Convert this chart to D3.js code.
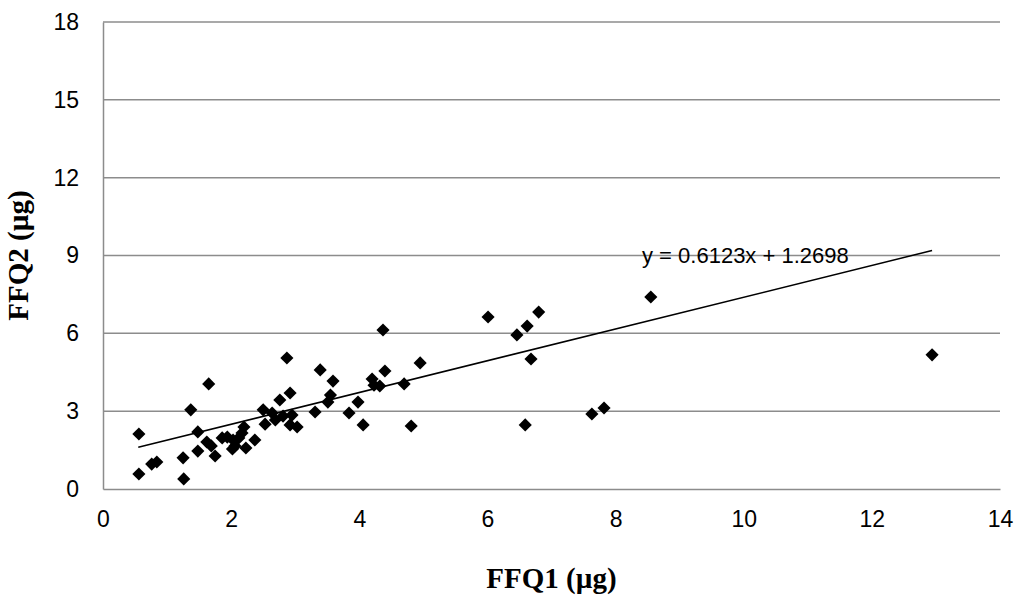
<!DOCTYPE html>
<html>
<head>
<meta charset="utf-8">
<script src="https://cdn.jsdelivr.net/npm/d3@7"></script>
<style>
body { margin: 0; background: #fff; }
text { font-family: "Liberation Sans", Arial, sans-serif; }
</style>
</head>
<body>
<script>
// readings
var xVals = [0.56,0.56,0.76,0.84,1.25,1.26,1.37,1.48,1.48,1.65,1.62,1.69,1.75,1.86,1.94,2.02,2.03,2.06,2.12,2.17,2.2,2.23,2.37,2.5,2.53,2.64,2.69,2.76,2.81,2.87,2.92,2.92,2.95,3.03,3.31,3.39,3.51,3.59,3.55,3.84,3.98,4.06,4.2,4.23,4.32,4.37,4.4,4.7,4.81,4.95,6.01,6.46,6.59,6.62,6.68,6.8,7.63,7.82,8.55,12.94];
var yVals = [2.12,0.58,0.96,1.04,1.2,0.39,3.05,2.2,1.46,4.05,1.81,1.66,1.27,1.97,2.0,1.54,1.89,1.66,1.97,2.16,2.39,1.58,1.89,3.05,2.5,2.93,2.66,3.43,2.81,5.05,3.7,2.47,2.85,2.39,2.97,4.59,3.35,4.16,3.62,2.93,3.35,2.47,4.24,4.0,3.97,6.13,4.55,4.05,2.43,4.86,6.63,5.94,2.47,6.28,5.01,6.82,2.89,3.12,7.4,5.17];
var xTicks = [0,2,4,6,8,10,12,14];
var yTicks = [0,3,6,9,12,15,18];
var slope = 0.6123, intercept = 1.2698;
var lineRange = [0.55, 12.94];

var margin = {left: 103, right: 24, top: 22, bottom: 112};
var width = 1024, height = 601;

var svg = d3.select("body").append("svg")
  .attr("width", width).attr("height", height);

var x = d3.scaleLinear().domain([0, 14]).range([margin.left, width - margin.right]);
var y = d3.scaleLinear().domain([0, 18]).range([height - margin.bottom, margin.top]);

// gridlines
svg.selectAll(".grid").data(yTicks.filter(function(d) { return d > 0; }))
  .enter().append("line")
  .attr("x1", x(0)).attr("x2", x(14))
  .attr("y1", function(d) { return y(d); }).attr("y2", function(d) { return y(d); })
  .attr("stroke", "#8c8c8c").attr("stroke-width", 1.5);

var xAxis = svg.append("g").attr("transform", "translate(0," + y(0) + ")")
  .call(d3.axisBottom(x).tickValues(xTicks).tickSize(0).tickPadding(22));
xAxis.select(".domain").attr("stroke", "#8c8c8c").attr("stroke-width", 1.5);
xAxis.selectAll("text").style("font-size", "23px").attr("fill", "#000");

var yAxis = svg.append("g").attr("transform", "translate(" + x(0) + ",0)")
  .call(d3.axisLeft(y).tickValues(yTicks).tickSize(0).tickPadding(24));
yAxis.select(".domain").attr("stroke", "#8c8c8c").attr("stroke-width", 1.5);
yAxis.selectAll("text").style("font-size", "23px").attr("fill", "#000");

// trend line
svg.append("line")
  .attr("x1", x(lineRange[0])).attr("y1", y(slope * lineRange[0] + intercept))
  .attr("x2", x(lineRange[1])).attr("y2", y(slope * lineRange[1] + intercept))
  .attr("stroke", "#000").attr("stroke-width", 1.5);

// points
var pts = xVals.map(function(v, i) { return {x: v, y: yVals[i]}; });
svg.selectAll(".pt").data(pts).enter().append("path")
  .attr("class", "pt")
  .attr("d", d3.symbol().type(d3.symbolDiamond2).size(110))
  .attr("transform", function(d) { return "translate(" + x(d.x) + "," + y(d.y) + ")"; })
  .attr("fill", "#000");

svg.append("text").attr("x", 642).attr("y", 263)
  .style("font-size", "22px").text("y = 0.6123x + 1.2698");

svg.append("text").attr("x", (x(0) + x(14)) / 2).attr("y", 588)
  .attr("text-anchor", "middle")
  .style("font-family", "'Liberation Serif', 'Times New Roman', serif")
  .style("font-weight", "bold").style("font-size", "29px")
  .text("FFQ1 (µg)");

svg.append("text")
  .attr("transform", "translate(28," + ((y(0) + y(18)) / 2) + ") rotate(-90)")
  .attr("text-anchor", "middle")
  .style("font-family", "'Liberation Serif', 'Times New Roman', serif")
  .style("font-weight", "bold").style("font-size", "29px")
  .text("FFQ2 (µg)");
</script>
</body>
</html>
